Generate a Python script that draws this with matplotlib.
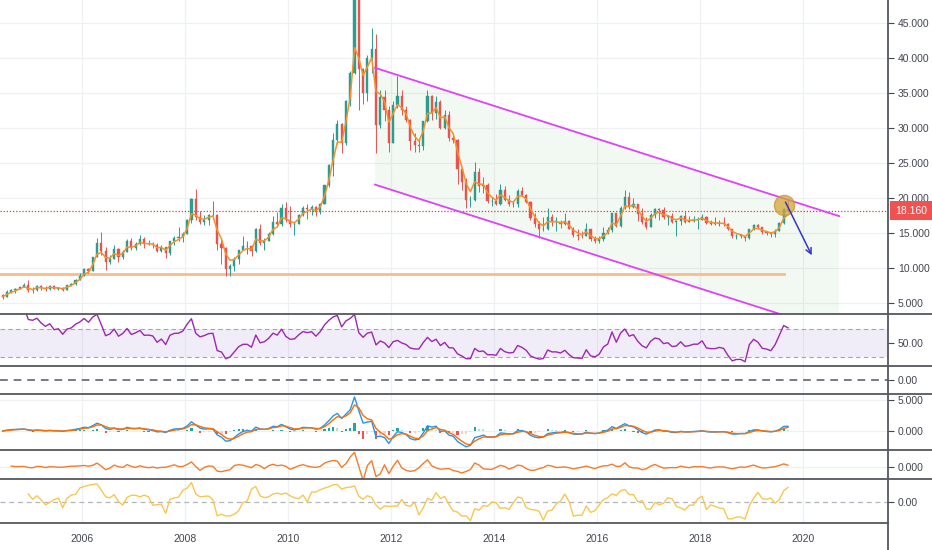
import matplotlib
matplotlib.use("Agg")
import matplotlib.pyplot as plt
import matplotlib.transforms as mtransforms
from matplotlib.lines import Line2D
from matplotlib.patches import Polygon
import numpy as np
import pandas as pd

plt.rcParams["font.family"] = ["Liberation Sans", "DejaVu Sans"]

# ---------------------------------------------------------------------------
# Data: monthly silver candles, Jun 2004 .. Sep 2019
# ---------------------------------------------------------------------------
FIRST_YEAR, FIRST_MONTH = 2004, 6
first_open = 6.05

close = [
    5.86, 6.56, 6.77, 6.95, 7.29, 7.53, 6.82,                                # 2004
    6.77, 7.44, 7.13, 6.92, 7.43, 7.04, 7.18, 6.82, 7.51, 7.69, 8.33, 8.83,  # 2005
    9.84, 9.60, 11.54, 13.50, 12.38, 10.80, 11.27, 12.70, 11.55, 12.30, 13.90, 12.90,
    13.40, 14.10, 13.35, 13.42, 13.30, 12.40, 12.95, 12.12, 13.87, 14.30, 14.35, 14.80,
    16.84, 19.85, 17.30, 16.50, 16.90, 17.50, 17.60, 13.40, 12.90, 9.80, 10.20, 11.30,
    12.50, 13.10, 13.10, 12.40, 15.60, 13.60, 13.90, 14.90, 16.60, 16.20, 18.50, 16.90,
    16.20, 16.30, 17.50, 18.60, 18.40, 18.70, 18.00, 19.20, 21.80, 24.70, 28.30, 30.60,
    27.90, 33.90, 37.90, 48.60, 38.50, 35.00, 40.00, 41.30, 30.40, 34.50, 32.60, 27.90,
    33.30, 34.60, 32.50, 31.20, 28.20, 27.50, 27.40, 31.00, 34.60, 32.20, 33.70, 30.00,
    31.80, 28.50, 28.30, 24.10, 22.30, 19.70, 19.70, 23.70, 21.70, 21.90, 19.50, 19.50,
    19.20, 21.20, 19.70, 19.10, 19.20, 21.00, 20.40, 19.40, 17.10, 16.20, 15.50, 15.60,
    17.20, 16.60, 16.60, 16.30, 16.70, 15.60, 14.70, 14.60, 14.50, 15.50, 14.10, 13.80,
    14.10, 15.00, 15.40, 17.80, 16.00, 18.60, 20.20, 18.70, 19.20, 17.70, 16.50, 15.90,
    17.50, 18.40, 18.20, 17.20, 17.40, 16.60, 16.70, 17.40, 16.60, 16.70, 16.90, 16.90,
    17.30, 16.40, 16.30, 16.30, 16.40, 16.30, 15.50, 14.50, 14.60, 14.60, 14.20, 15.50,
    16.10, 15.80, 15.10, 15.00, 14.80, 15.30, 16.40, 18.40, 18.16,            # 2019
]
high = [
    6.20, 6.80, 6.95, 7.10, 7.45, 7.85, 8.25,
    7.20, 7.50, 7.60, 7.40, 7.50, 7.50, 7.30, 7.25, 7.55, 7.80, 8.40, 9.20,
    10.00, 10.00, 11.60, 14.20, 15.10, 13.00, 11.80, 13.30, 12.80, 12.55, 14.10, 14.20,
    13.65, 14.70, 14.40, 14.00, 13.70, 13.50, 13.20, 13.00, 13.90, 14.50, 15.80, 15.10,
    17.00, 20.00, 21.30, 18.10, 17.50, 17.70, 19.50, 17.70, 14.30, 13.00, 10.60, 11.60,
    12.60, 14.50, 13.80, 13.30, 15.70, 16.20, 14.20, 15.10, 17.40, 18.00, 19.20, 19.40,
    18.80, 16.50, 17.70, 18.80, 19.20, 19.00, 18.80, 19.30, 21.90, 24.90, 29.30, 31.20,
    30.70, 34.00, 38.20, 49.80, 48.60, 38.60, 40.50, 44.30, 43.40, 35.50, 35.40, 33.20,
    33.90, 37.40, 35.50, 33.10, 31.30, 29.30, 28.40, 31.00, 35.40, 34.70, 34.60, 34.00,
    32.50, 32.40, 29.30, 28.40, 24.30, 22.80, 20.30, 25.10, 24.30, 23.00, 22.10, 20.20,
    20.50, 22.00, 21.70, 20.40, 19.50, 21.30, 21.60, 20.50, 19.60, 17.80, 16.70, 17.30,
    18.50, 17.70, 17.20, 16.90, 17.80, 16.90, 15.80, 15.60, 15.30, 16.40, 15.50, 14.50,
    14.50, 15.80, 15.90, 17.90, 17.80, 18.80, 21.10, 20.80, 20.00, 19.20, 18.60, 17.20,
    17.80, 18.50, 18.60, 18.70, 17.60, 17.80, 16.90, 17.50, 18.10, 17.40, 17.40, 17.20,
    17.70, 17.40, 16.90, 17.30, 16.80, 17.30, 16.40, 15.60, 14.80, 14.90, 14.60, 15.60,
    16.20, 16.20, 15.90, 15.20, 15.00, 15.50, 16.60, 18.60, 19.65,
]
low = [
    5.50, 5.85, 6.40, 6.40, 6.95, 7.20, 6.55,
    6.40, 6.70, 6.90, 6.75, 6.85, 7.00, 6.90, 6.75, 6.80, 7.35, 7.55, 8.20,
    8.80, 9.20, 9.60, 11.50, 11.80, 9.70, 10.50, 11.20, 10.85, 11.30, 12.20, 12.60,
    12.50, 13.30, 12.90, 13.20, 12.80, 12.30, 12.30, 11.40, 11.90, 13.20, 13.80, 13.70,
    14.80, 16.40, 16.90, 16.30, 16.10, 16.10, 17.00, 12.50, 10.50, 8.80, 8.80, 9.60,
    10.50, 12.50, 12.00, 11.70, 12.30, 13.30, 12.50, 13.80, 14.70, 16.00, 16.00, 16.50,
    15.90, 14.70, 16.30, 17.40, 17.00, 17.60, 17.40, 17.70, 19.10, 21.50, 23.10, 27.70,
    26.40, 27.60, 33.10, 37.70, 32.60, 33.50, 33.80, 37.80, 26.40, 30.00, 31.00, 26.60,
    27.90, 32.90, 31.80, 30.80, 26.90, 26.60, 26.60, 26.90, 30.80, 31.10, 31.30, 29.90,
    29.90, 28.20, 27.90, 22.00, 21.20, 18.50, 18.70, 19.60, 20.80, 20.70, 19.30, 18.80,
    19.00, 19.00, 19.60, 18.90, 18.70, 18.70, 20.30, 19.30, 16.90, 15.80, 14.30, 15.20,
    15.40, 16.00, 15.30, 15.70, 16.10, 15.50, 14.40, 14.00, 14.20, 14.50, 13.90, 13.60,
    13.60, 13.90, 14.80, 15.10, 15.80, 15.90, 18.40, 18.40, 18.60, 16.70, 16.20, 15.60,
    15.90, 17.10, 16.80, 17.00, 16.10, 16.40, 14.60, 16.10, 16.40, 16.60, 16.60, 15.60,
    16.90, 16.20, 16.10, 16.10, 16.00, 16.00, 15.40, 14.30, 14.10, 14.20, 13.90, 14.10,
    15.40, 15.60, 14.90, 14.70, 14.40, 14.40, 15.20, 16.30, 18.10,
]

# Drawings on the chart (trend channel, support, marker, arrow)
channel_t = [2011.69, 2020.70]
channel_upper = [38.6, 17.4]
channel_lower = [21.9, 0.7]
support_level = 9.15
support_t = [2004.40, 2019.63]
marker_t, marker_price = 2019.63, 19.0
arrow_from = (2019.66, 19.4)
arrow_to = (2020.17, 11.8)

year_ticks = [2006, 2008, 2010, 2012, 2014, 2016, 2018, 2020]
price_ticks = [5, 10, 15, 20, 25, 30, 35, 40, 45]

# ---------------------------------------------------------------------------
# Derived series (indicators computed from the monthly closes)
# ---------------------------------------------------------------------------
n = len(close)
idx = np.arange(n) + (FIRST_MONTH - 1)
t = FIRST_YEAR + idx / 12.0 + 1 / 24.0
c = pd.Series(close)
o = pd.Series([first_open] + close[:-1])
h = pd.Series(high)
lo = pd.Series(low)

ema = c.ewm(span=3, adjust=False).mean()

delta = c.diff()
gain = delta.clip(lower=0).ewm(alpha=1 / 8, adjust=False).mean()
loss = (-delta.clip(upper=0)).ewm(alpha=1 / 8, adjust=False).mean()
rsi = 100 - 100 / (1 + gain / loss)

macd = c.ewm(span=3, adjust=False).mean() - c.ewm(span=6, adjust=False).mean()
signal = macd.ewm(span=3, adjust=False).mean()
hist = macd - signal

momentum = c - c.shift(2)

sg = delta.clip(lower=0).rolling(6).sum()
sl = (-delta.clip(upper=0)).rolling(6).sum()
cmo = 100 * (sg - sl) / (sg + sl)

# ---------------------------------------------------------------------------
# Layout (pixel based, 932 x 550)
# ---------------------------------------------------------------------------
W, H = 932, 550
AX_RIGHT = 888
fig = plt.figure(figsize=(W / 100, H / 100), dpi=100)
fig.patch.set_facecolor("white")

TEXT = "#434651"
GRID = "#eef0f4"
SEP = "#54575f"
XLIM = (2006 - 82 / 51.5, 2006 + (AX_RIGHT - 82) / 51.5)


def panel(top, bottom):
    ax = fig.add_axes([0, 1 - bottom / H, AX_RIGHT / W, (bottom - top) / H])
    ax.set_xlim(*XLIM)
    for s in ax.spines.values():
        s.set_visible(False)
    ax.yaxis.tick_right()
    ax.tick_params(axis="y", length=4, width=0.8, color=TEXT, labelsize=7.5,
                   labelcolor=TEXT, pad=3)
    ax.tick_params(axis="x", length=0, labelbottom=False)
    ax.set_xticks(year_ticks)
    ax.grid(axis="x", color=GRID, lw=0.9)
    ax.set_axisbelow(True)
    return ax


ax = panel(0, 314)
ax_rsi = panel(314, 366)
ax_blank = panel(366, 394)
ax_macd = panel(394, 450)
ax_mom = panel(450, 479)
ax_cmo = panel(479, 523)

# --- main price panel -------------------------------------------------------
ax.set_ylim(3.4, 48.3)
ax.set_yticks(price_ticks)
ax.set_yticklabels([f"{v:.3f}" for v in price_ticks])
ax.grid(axis="y", color=GRID, lw=0.9)

ax.add_patch(Polygon(
    [(channel_t[0], channel_upper[0]), (channel_t[1], channel_upper[1]),
     (channel_t[1], channel_lower[1]), (channel_t[0], channel_lower[0])],
    closed=True, facecolor="#4caf50", alpha=0.07, edgecolor="none", zorder=1))

up = c >= o
col = np.where(up, "#2a9d8f", "#e8534f")
bw = 0.5 / 12
ax.vlines(t, lo, h, colors=col, lw=0.7, zorder=3)
ax.bar(t, (c - o).abs().clip(lower=0.05), bottom=np.minimum(o, c), width=bw,
       color=col, edgecolor=col, lw=0.3, zorder=3)
ax.plot(t, ema, color="#f7902b", lw=1.1, zorder=4)

ax.plot(channel_t, channel_upper, color="#e040fb", lw=1.3, zorder=5)
ax.plot(channel_t, channel_lower, color="#e040fb", lw=1.3, zorder=5)
ax.plot(support_t, [support_level] * 2, color="#f9bb8c", lw=2, zorder=2)
ax.axhline(close[-1], color="#e53935", lw=0.9, ls=(0, (1, 1.5)), zorder=2)
ax.plot([marker_t], [marker_price], "o", ms=14.5, mfc="#d4a63a", mec="#c59a30",
        alpha=0.75, zorder=6)
ax.annotate("", xy=arrow_to, xytext=arrow_from,
            arrowprops=dict(arrowstyle="->", color="#3436c4", lw=1.1,
                            shrinkA=0, shrinkB=0), zorder=7)

blend = mtransforms.blended_transform_factory(ax.transAxes, ax.transData)
ax.annotate(f"{close[-1]:.3f}", xy=(1, close[-1]), xycoords=blend,
            xytext=(5, 0), textcoords="offset points", ha="left", va="center",
            fontsize=7.5, color="white", annotation_clip=False,
            bbox=dict(boxstyle="square,pad=0.45", fc="#f05252", ec="none"))

# --- RSI --------------------------------------------------------------------
ax_rsi.set_ylim(17, 91.4)
ax_rsi.set_yticks([50])
ax_rsi.set_yticklabels(["50.00"])
ax_rsi.axhspan(30, 70, color="#7e57c2", alpha=0.1, lw=0)
for lvl in (30, 70):
    ax_rsi.axhline(lvl, color="#a3a6af", lw=0.8, ls=(0, (4, 3)))
ax_rsi.plot(t, rsi, color="#9c27b0", lw=1)

# --- empty indicator with zero line ----------------------------------------
ax_blank.set_ylim(-1, 1)
ax_blank.set_yticks([0])
ax_blank.set_yticklabels(["0.00"])
ax_blank.axhline(0, color="#787b86", lw=1.4, ls=(0, (4, 3)))

# --- MACD -------------------------------------------------------------------
ax_macd.set_ylim(-3.06, 5.97)
ax_macd.set_yticks([0, 5])
ax_macd.set_yticklabels(["0.000", "5.000"])
ax_macd.grid(axis="y", color=GRID, lw=0.9)
prev = hist.shift(1).fillna(0)
hcol = np.where(hist >= 0,
                np.where(hist >= prev, "#26a69a", "#b2dfdb"),
                np.where(hist <= prev, "#ef5350", "#ffcdd2"))
ax_macd.bar(t, hist, width=bw, color=hcol, lw=0)
ax_macd.plot(t, macd, color="#2196f3", lw=1)
ax_macd.plot(t, signal, color="#ff6d00", lw=1)

# --- momentum ---------------------------------------------------------------
ax_mom.set_ylim(-12, 17)
ax_mom.set_yticks([0])
ax_mom.set_yticklabels(["0.000"])
ax_mom.grid(axis="y", color=GRID, lw=0.9)
ax_mom.plot(t, momentum, color="#f57c2a", lw=1)

# --- oscillator -------------------------------------------------------------
ax_cmo.set_ylim(-112, 118)
ax_cmo.set_yticks([0])
ax_cmo.set_yticklabels(["0.00"])
ax_cmo.axhline(0, color="#b2b5be", lw=0.9, ls=(0, (4, 3)))
ax_cmo.plot(t, cmo, color="#f9c74f", lw=1)
ax_cmo.tick_params(axis="x", labelbottom=True, labelsize=7.5, labelcolor=TEXT, pad=8)
ax_cmo.set_xticklabels([str(y) for y in year_ticks])

# --- separators -------------------------------------------------------------
for y in (314, 366, 394, 450, 479):
    fig.add_artist(Line2D([0, 1], [1 - y / H] * 2, color=SEP, lw=1.3))
fig.add_artist(Line2D([0, AX_RIGHT / W], [1 - 523 / H] * 2, color=SEP, lw=1.3))
fig.add_artist(Line2D([AX_RIGHT / W] * 2, [0, 1], color=SEP, lw=1.3))

fig.savefig("out.png", dpi=100)
